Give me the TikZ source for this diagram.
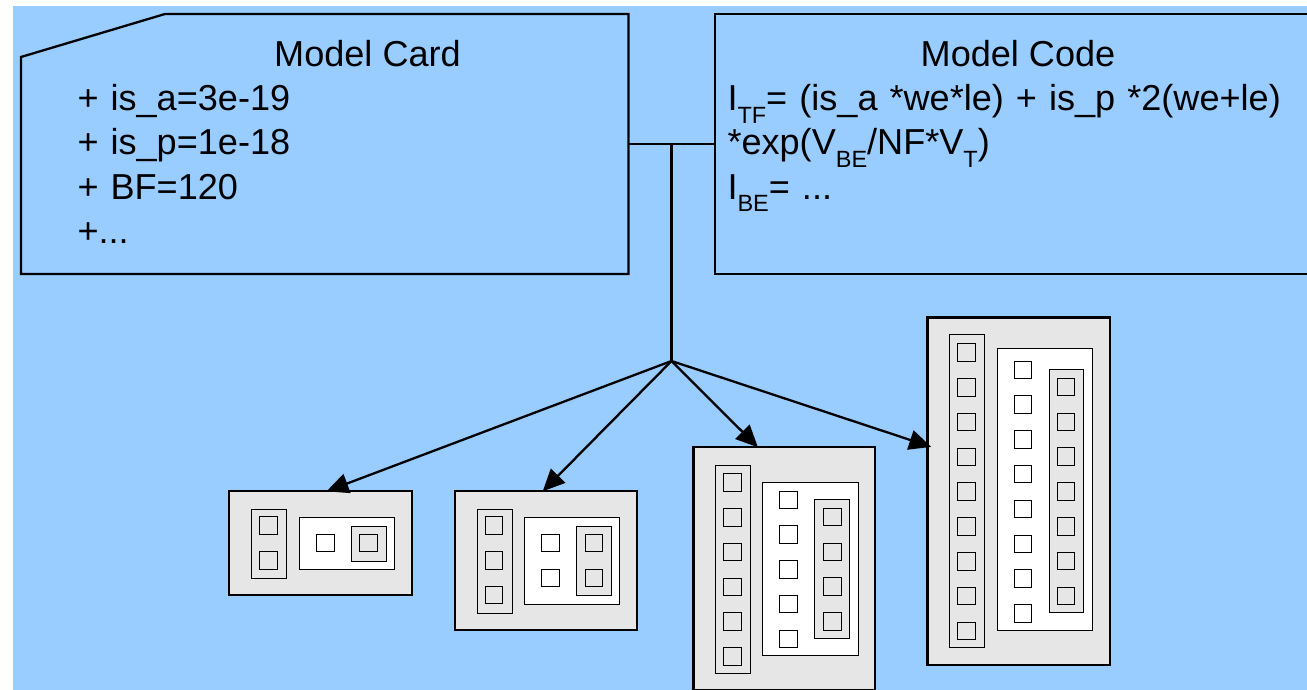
\documentclass[tikz,border=0pt]{standalone}
\usepackage{fontspec}
\setmainfont{Liberation Sans}
\usepackage{tikz}
\usetikzlibrary{arrows.meta}

\definecolor{sheet}{HTML}{99CCFF}
\definecolor{chipgray}{HTML}{E6E6E6}
\newcommand{\dn}[1]{\raisebox{-12.5pt}{\fontsize{23.5}{23.5}\selectfont #1}}

\tikzset{
  frame/.style={inner sep=0pt,outer sep=0pt},
  title/.style={font=\fontsize{36.1}{44}\selectfont,inner sep=0pt,text height=27pt,text depth=8pt},
  cardline/.style={title,text width=300pt,align=left},
  codeline/.style={title,text width=570pt,align=left},
  chip/.style={draw,line width=2.3pt,fill=chipgray,inner sep=0pt,outer sep=0pt,anchor=north west},
  rail/.style={draw,line width=1pt,fill=chipgray,inner sep=0pt,anchor=north west},
  well/.style={draw,line width=1pt,fill=white,inner sep=0pt,anchor=north west},
  pin/.style={draw,line width=1pt,inner sep=0pt,minimum size=17.5pt,anchor=north west}
}

\begin{document}
\begin{tikzpicture}[x=1pt,y=-1pt,>={Triangle[length=22pt,width=20pt]},
        line width=2.3pt,node distance=44.2pt]

  \useasboundingbox (0,0) rectangle (1307,690);
  \fill[sheet] (13,6) rectangle (1307,690);

  % the two boxes on top
  \node[frame,minimum width=607.5pt,minimum height=260pt] (card) at (324.75,144) {};
  \node[frame,minimum width=592pt,minimum height=260pt] (code) at (1011,144) {};
  \draw ([yshift=-43pt]card.north west) -- ([xshift=144pt]card.north west)
        -- (card.north east) -- (card.south east) -- (card.south west) -- cycle;
  \draw (code.north east) -- (code.north west) -- (code.south west) -- (code.south east);

  \node[title] (cardtitle) at (367.5,57.2) {Model Card};
  \node[cardline] (card1) at (227.5,101.2) {+ is\_a=3e-19};
  \node[cardline] (card2) [below of=card1] {+ is\_p=1e-18};
  \node[cardline] (card3) [below of=card2] {+ BF=120};
  \node[cardline] (card4) [below of=card3] {+...};

  \node[title] (codetitle) at (1018,57.2) {Model Code};
  \node[codeline] (code1) at (1012.5,101.2) {I\dn{TF}= (is\_a *we*le) + is\_p *2(we+le)};
  \node[codeline] (code2) [below of=code1] {*exp(V\dn{BE}/NF*V\dn{T})};
  \node[codeline] (code3) [below of=code2] {I\dn{BE}= ...};

  % smallest chip
  \node[chip,minimum width=182.4pt,minimum height=104pt] (chip1) at (229.3,491.3) {};
  \node[rail,minimum width=35pt,minimum height=69.3pt] (rail1) at (251,508.5) {};
  \node[well,minimum width=95.6pt,minimum height=52.3pt] (well1) at (298.5,516.5) {};
  \node[rail,minimum width=35pt,minimum height=35pt] (inner1) at (350.7,525.5) {};
  \foreach \k in {0,1}
    \node[pin] (a\k) at (259,{516.2+35*\k}) {};
  \node[pin] (b0) at (316,533.7) {};
  \node[pin] (c0) at (359.2,533.7) {};

  % second chip
  \node[chip,minimum width=182.6pt,minimum height=139pt] (chip2) at (454.7,491.3) {};
  \node[rail,minimum width=35pt,minimum height=104pt] (rail2) at (476.5,508.5) {};
  \node[well,minimum width=95.3pt,minimum height=87pt] (well2) at (523.7,516.5) {};
  \node[rail,minimum width=35pt,minimum height=69.6pt] (inner2) at (576,525.5) {};
  \foreach \k in {0,1,2}
    \node[pin] (d\k) at (484.7,{516.2+34.8*\k}) {};
  \foreach \k in {0,1} {
    \node[pin] (e\k) at (541,{533.7+34.8*\k}) {};
    \node[pin] (f\k) at (584.7,{533.7+34.8*\k}) {};
  }

  % third chip
  \node[chip,minimum width=181.7pt,minimum height=243pt] (chip3) at (693.6,447.3) {};
  \node[rail,minimum width=35pt,minimum height=208pt] (rail3) at (714.7,464.7) {};
  \node[well,minimum width=95.6pt,minimum height=173pt] (well3) at (762.3,482.4) {};
  \node[rail,minimum width=34.6pt,minimum height=138.6pt] (inner3) at (814.3,499.4) {};
  \foreach \k in {0,...,5}
    \node[pin] (g\k) at (723,{473.2+34.8*\k}) {};
  \foreach \k in {0,...,4}
    \node[pin] (h\k) at (779,{490.5+34.8*\k}) {};
  \foreach \k in {0,...,3}
    \node[pin] (i\k) at (823,{507.8+34.8*\k}) {};

  % biggest chip
  \node[chip,minimum width=182.7pt,minimum height=347.4pt] (chip4) at (927.5,317.5) {};
  \node[rail,minimum width=34.7pt,minimum height=312.6pt] (rail4) at (949,334.4) {};
  \node[well,minimum width=95.3pt,minimum height=282pt] (well4) at (996.7,347.7) {};
  \node[rail,minimum width=34.7pt,minimum height=242.6pt] (inner4) at (1048.7,369.4) {};
  \foreach \k in {0,...,8}
    \node[pin] (j\k) at (957,{343.2+34.8*\k}) {};
  \foreach \k in {0,...,7}
    \node[pin] (k\k) at (1013.5,{360.5+34.8*\k}) {};
  \foreach \k in {0,...,6}
    \node[pin] (l\k) at (1056.7,{377.8+34.8*\k}) {};

  % connectors
  \coordinate (joint) at (671.5,144);
  \coordinate (fan) at (671.5,361);
  \draw (card.east) -- (code.west);
  \draw (joint) -- (fan);
  \path[->] (fan) edge ([xshift=6pt]chip1.north)
            (fan) edge ([xshift=-3.3pt]chip2.north)
            (fan) edge ([xshift=-26.5pt]chip3.north)
            (fan) edge ([xshift=3.7pt,yshift=44.3pt]chip4.west);

\end{tikzpicture}
\end{document}
